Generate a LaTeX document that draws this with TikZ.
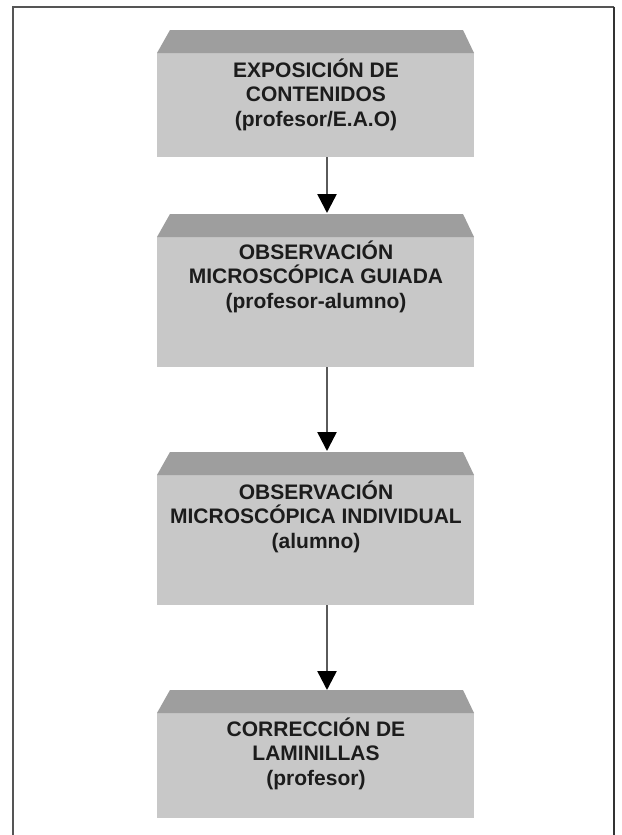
\documentclass[tikz,border=0pt]{standalone}
\usepackage{fontspec}
\setmainfont{Liberation Sans}
\usetikzlibrary{arrows.meta}
\definecolor{boxgray}{RGB}{200,200,200}
\definecolor{bevelgray}{RGB}{158,158,158}
\definecolor{txt}{RGB}{28,28,28}
\definecolor{frame}{RGB}{85,85,85}
\tikzset{
  mainbox/.style={draw=none,fill=boxgray,rectangle,minimum width=317pt,inner sep=0pt,outer sep=0pt},
  bevel/.style={fill=bevelgray},
  label/.style={anchor=north,inner sep=0pt,align=center,text=txt,font=\bfseries\fontsize{21}{24.5}\selectfont},
  arr/.style={draw={rgb,255:red,90;green,90;blue,90},line width=2.5pt,-{Triangle[length=19pt,width=19pt,fill=black,color=black]}}
}
\newcommand{\lstrut}{\rule{0pt}{20pt}}
\begin{document}
\begin{tikzpicture}[x=1pt,y=-1pt]
\useasboundingbox (0,0) rectangle (621,835);
\fill[white] (0,0) rectangle (621,835);
% frame
\draw[frame,line width=2pt] (12.5,835) -- (12.5,6.5) -- (613.5,6.5);
\draw[black!80,line width=2pt] (613.5,6.5) -- (613.5,835);
% boxes
\node[mainbox,minimum height=104pt] (b1) at (315.5,105) {};
\node[mainbox,minimum height=130pt] (b2) at (315.5,302) {};
\node[mainbox,minimum height=130pt] (b3) at (315.5,540) {};
\node[mainbox,minimum height=105pt] (b4) at (315.5,765.5) {};
\foreach \b in {b1,b2,b3,b4}{
  \fill[bevel] (\b.north west) -- ([xshift=13pt,yshift=23pt]\b.north west)
     -- ([xshift=-11pt,yshift=23pt]\b.north east) -- (\b.north east) -- cycle;
}
% texts
\node[label] (t1) at (316,57) {\lstrut EXPOSICIÓN DE\\CONTENIDOS\\(profesor/E.A.O)};
\node[label] (t2) at (316,239) {\lstrut OBSERVACIÓN\\MICROSCÓPICA GUIADA\\(profesor-alumno)};
\node[label] (t3) at (316,479) {\lstrut OBSERVACIÓN\\MICROSCÓPICA INDIVIDUAL\\(alumno)};
\node[label] (t4) at (316,716) {\lstrut CORRECCIÓN DE\\LAMINILLAS\\(profesor)};
% arrows
\draw[arr] ([xshift=11.5pt]b1.south) -- ([xshift=11.5pt,yshift=24pt]b2.north);
\draw[arr] ([xshift=11.5pt]b2.south) -- ([xshift=11.5pt,yshift=24pt]b3.north);
\draw[arr] ([xshift=11.5pt]b3.south) -- ([xshift=11.5pt,yshift=23pt]b4.north);
\end{tikzpicture}
\end{document}
